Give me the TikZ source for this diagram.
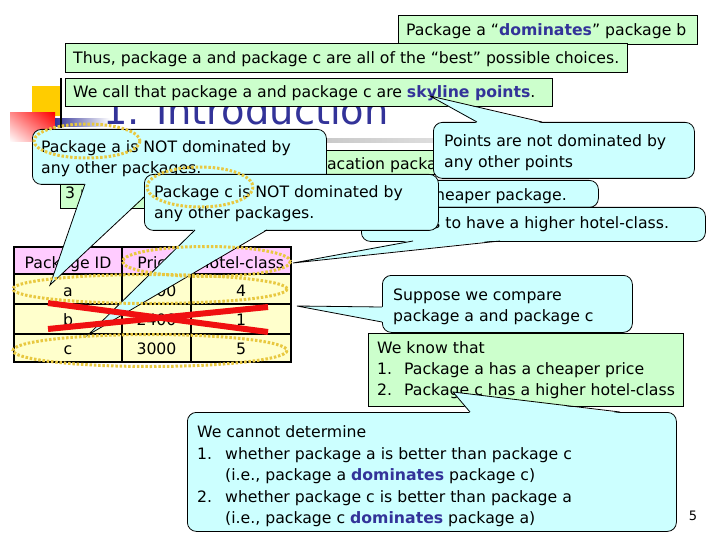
\documentclass[tikz,border=0pt]{standalone}
\usepackage{fontspec}
\setmainfont{DejaVu Sans}
\usetikzlibrary{shadings}
\definecolor{cyanf}{RGB}{204,255,255}
\definecolor{greenf}{RGB}{204,255,204}
\definecolor{pinkf}{RGB}{255,204,255}
\definecolor{yellf}{RGB}{255,255,204}
\definecolor{dblue}{RGB}{51,51,153}
\definecolor{goldd}{RGB}{232,200,64}
\definecolor{logoy}{RGB}{255,204,0}
\definecolor{xred}{RGB}{240,16,16}
\newcommand\bodyf{\fontsize{15.7}{21}\selectfont}
\newcommand\hlt[1]{\textbf{\color{dblue}#1}}
\begin{document}
\begin{tikzpicture}[x=1pt,y=-1pt,
  gbox/.style={draw=black, fill=greenf, line width=0.8pt, inner sep=0pt, anchor=north west},
  cbox/.style={draw=black, fill=cyanf, line width=0.8pt, rounded corners=9pt, inner sep=0pt, anchor=north west},
  txt/.style={anchor=base west, inner sep=0pt, font=\bodyf},
  ttxt/.style={anchor=base, inner sep=0pt, font=\bodyf},
  tailfill/.style={fill=cyanf},
  tailline/.style={draw=black, line width=0.8pt},
  dots/.style={draw=goldd, line width=3pt, dash pattern=on 2.5pt off 1.8pt},
  xline/.style={draw=xred, line width=6pt}
]
\useasboundingbox (0,0) rectangle (720,540);
\fill[white] (0,0) rectangle (720,540);
% logo and title decoration
\fill[logoy] (32,86) rectangle (62,116);
\shade[upper right=red, upper left=red!45, lower right=red!55, lower left=white] (10,113) rectangle (55,142);
\shade[left color=dblue, right color=white] (55,119) rectangle (110,127);
\draw[black, line width=2pt] (61,78) -- (61,128);
\shade[left color=gray!75, right color=gray!25] (95,139) rectangle (445,143);
\node[anchor=base west, inner sep=0pt, font=\fontsize{38.4}{40}\selectfont, text=dblue] (title) at (103,125) {1. Introduction};

% top green boxes
\node[gbox, minimum width=299pt, minimum height=29pt] (boxA) at (398,15) {};
\node[txt] (tA) at (406,35.5) {Package a “\hlt{dominates}” package b};
\node[gbox, minimum width=562pt, minimum height=29pt] (boxB) at (65,43) {};
\node[txt] (tB) at (73,63.5) {Thus, package a and package c are all of the “best” possible choices.};
\node[gbox, minimum width=487pt, minimum height=28pt] (boxC) at (65,78) {};
\node[txt] (tC) at (73,97.5) {We call that package a and package c are \hlt{skyline points}.};

% table
\fill[pinkf] (14,247) rectangle (291,274);
\fill[yellf] (14,274) rectangle (291,362);
\draw[line width=1.5pt] (14,274) -- (291,274) (14,304) -- (291,304) (14,334) -- (291,334)
  (122,247) -- (122,362) (191,247) -- (191,362);
\draw[line width=2.5pt] (14,247) rectangle (291,362);
\node[ttxt] (h1) at (68,268) {Package ID};
\node[ttxt] (h2) at (156.5,268) {Price};
\node[ttxt] (h3) at (241,268) {Hotel-class};
\node[ttxt] (a1) at (68,296.5) {a};
\node[ttxt] (a2) at (156.5,296.5) {1600};
\node[ttxt] (a3) at (241,296.5) {4};
\node[ttxt] (b1) at (68,325.5) {b};
\node[ttxt] (b2) at (156.5,325.5) {2400};
\node[ttxt] (b3) at (241,325.5) {1};
\node[ttxt] (c1) at (68,354.5) {c};
\node[ttxt] (c2) at (156.5,354.5) {3000};
\node[ttxt] (c3) at (241,354.5) {5};

% earlier (mostly hidden) boxes
\node[gbox, minimum width=440pt, minimum height=24pt] (boxV) at (160,150) {};
\node[txt] (tV) at (303,170) {a vacation package};
\node[gbox, minimum width=370pt, minimum height=30pt] (box3) at (60,178) {};
\node[txt] (t3) at (65,198.5) {3 packages};
\node[cbox, minimum width=298pt, minimum height=27pt] (boxCh) at (300,180) {};
\node[txt, anchor=base east] (tCh) at (567,200.5) {a cheaper package.};
\node[cbox, minimum width=344pt, minimum height=34pt] (boxH) at (361,207) {};
\fill[tailfill] (413,240) -- (293,263) -- (500,240) -- cycle;
\draw[tailline] (413,241) -- (293,263) -- (500,241);
\node[txt] (tH) at (367,228.5) {He wants to have a higher hotel-class.};

% callout 1
\node[cbox, minimum width=294pt, minimum height=55pt] (co1) at (32,129) {};
\fill[tailfill] (85,183) -- (50,285) -- (158,183) -- cycle;
\draw[tailline] (85,184) -- (50,285) -- (158,184);
\node[txt] (co1a) at (41,152.5) {Package a is NOT dominated by};
\node[txt] (co1b) at (41,173.5) {any other packages.};
% callout 2
\node[cbox, minimum width=294pt, minimum height=56pt] (co2) at (144,174) {};
\fill[tailfill] (195,229) -- (88,335) -- (267,229) -- cycle;
\draw[tailline] (195,230) -- (88,335) -- (267,230);
\node[txt] (co2a) at (154,197.5) {Package c is NOT dominated by};
\node[txt] (co2b) at (154,218.5) {any other packages.};
% points callout
\node[cbox, minimum width=261pt, minimum height=56pt] (coP) at (433,122) {};
\fill[tailfill] (477,123) -- (430,96) -- (542,123) -- cycle;
\draw[tailline] (477,122) -- (430,96) -- (542,122);
\node[txt] (coPa) at (444,147) {Points are not dominated by};
\node[txt] (coPb) at (444,167.5) {any other points};

% red cross and dotted ellipses
\draw[xline] (48,303) -- (268,332);
\draw[xline] (48,329) -- (268,307);
\draw[dots] (87,141) ellipse [x radius=53, y radius=17];
\draw[dots] (200,187) ellipse [x radius=53, y radius=20];
\draw[dots] (206.5,261.5) ellipse [x radius=84, y radius=15];
\draw[dots] (150,289) ellipse [x radius=137, y radius=14.5];
\draw[dots] (150,350.5) ellipse [x radius=137, y radius=16];

% suppose callout
\node[cbox, minimum width=250pt, minimum height=57pt] (coS) at (382,275) {};
\fill[tailfill] (383,307) -- (297,306) -- (383,322) -- cycle;
\draw[tailline] (382,307) -- (297,306) -- (382,322);
\node[txt] (coSa) at (393,300.5) {Suppose we compare};
\node[txt] (coSb) at (393,321.5) {package a and package c};

% we know box
\node[gbox, minimum width=315pt, minimum height=73pt] (boxK) at (368,333) {};
\node[txt] (k0) at (377,353.5) {We know that};
\node[txt] (k1n) at (377,374.5) {1.};
\node[txt] (k1) at (404,374.5) {Package a has a cheaper price};
\node[txt] (k2n) at (377,395.5) {2.};
\node[txt] (k2) at (404,395.5) {Package c has a higher hotel-class};

% we cannot callout
\node[cbox, minimum width=489pt, minimum height=119pt] (coW) at (187,412) {};
\fill[tailfill] (470,413) -- (453,392) -- (620,413) -- cycle;
\draw[tailline] (470,412) -- (453,392) -- (620,412);
\node[txt] (w0) at (197,437.5) {We cannot determine};
\node[txt] (w1n) at (197,459.5) {1.};
\node[txt] (w1) at (225,459.5) {whether package a is better than package c};
\node[txt] (w1b) at (225,480.5) {(i.e., package a \hlt{dominates} package c)};
\node[txt] (w2n) at (197,502.5) {2.};
\node[txt] (w2) at (225,502.5) {whether package c is better than package a};
\node[txt] (w2b) at (225,523.5) {(i.e., package c \hlt{dominates} package a)};

\node[anchor=center, inner sep=0pt, font=\fontsize{13}{15}\selectfont] (pnum) at (693,516) {5};
\end{tikzpicture}
\end{document}
